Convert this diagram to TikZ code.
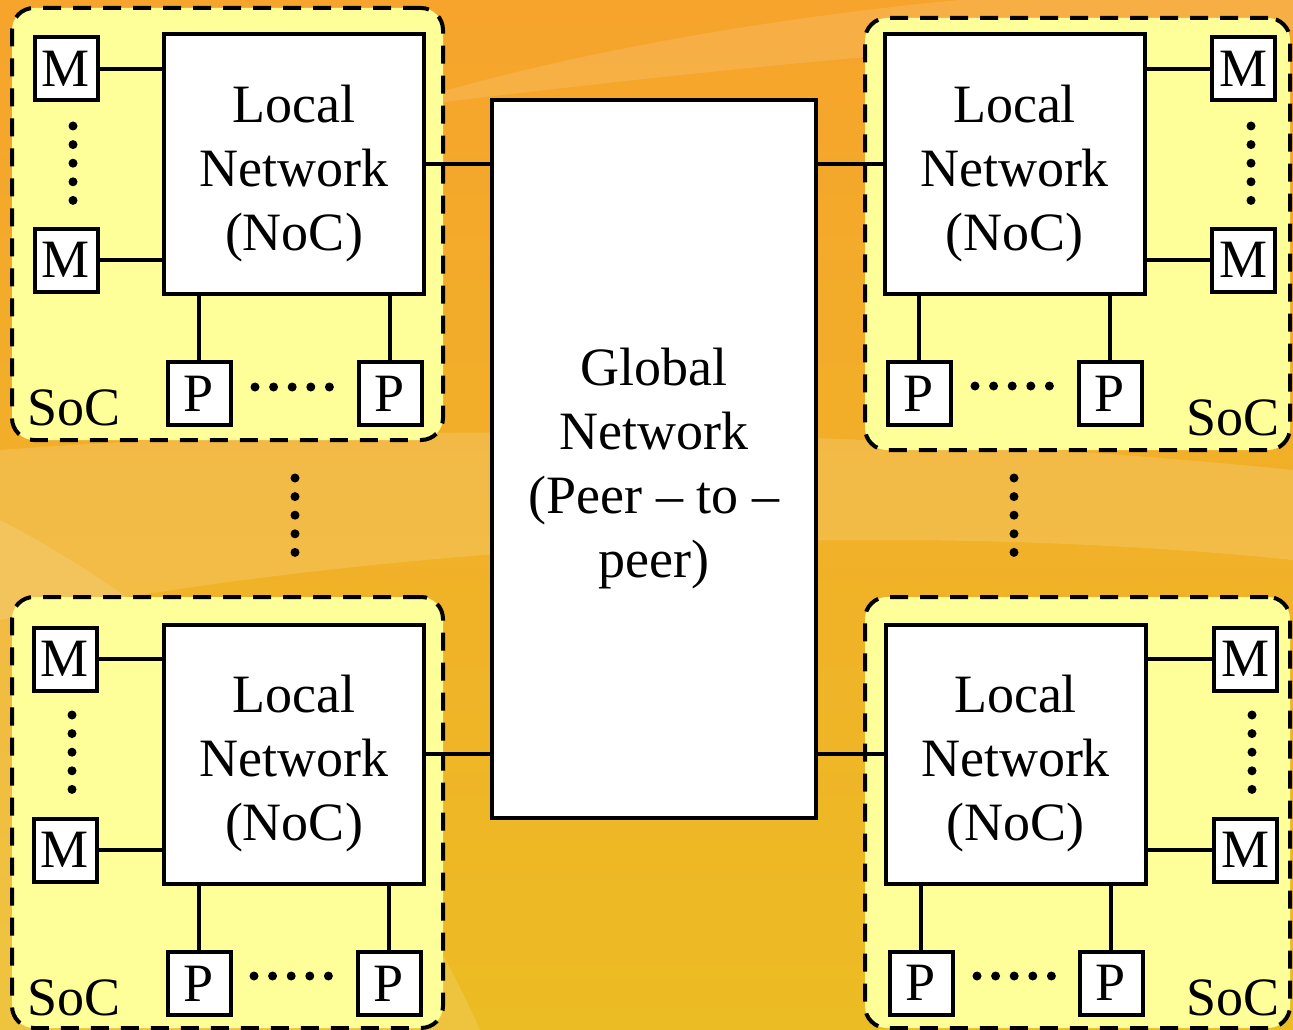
\documentclass[tikz,border=0pt]{standalone}
\usepackage{fontspec}
\setmainfont{Liberation Serif}
\usetikzlibrary{positioning,calc}
\definecolor{socyellow}{RGB}{255,255,153}
\definecolor{bgtop}{RGB}{246,164,44}
\definecolor{bgmid}{RGB}{246,198,104}
\definecolor{bgbot}{RGB}{236,188,36}

\begin{document}
\begin{tikzpicture}[x=1pt, y=-1pt,
    soc/.style={rectangle, draw, dash pattern=on 18pt off 12pt, line width=4pt, fill=socyellow, rounded corners=22pt},
    lnet/.style={rectangle, draw, line width=4pt, fill=white, minimum width=260pt, minimum height=259pt, align=center, text height=184pt, font=\fontsize{54}{64}\selectfont},
    unit/.style={rectangle, draw, line width=4pt, fill=white, minimum size=63pt, inner sep=0pt, font=\fontsize{54}{64}\selectfont},
    gnet/.style={rectangle, draw, line width=4pt, fill=white, minimum width=324pt, minimum height=718pt, align=center, text height=249pt, font=\fontsize{54}{64}\selectfont},
    soclabel/.style={anchor=base, inner sep=0pt, font=\fontsize{54}{64}\selectfont},
    link/.style={line width=3.5pt},
    dotrow/.style={line width=9pt, line cap=round, dash pattern=on 0pt off 18.6pt}]

    % background
    \useasboundingbox (0,0) rectangle (1293,1030);
    \fill[top color=bgtop, middle color=bgmid, bottom color=bgbot] (0,0) rectangle (1293,1030);
    \fill[white, opacity=0.14] (0,450) .. controls (400,420) and (900,430) .. (1293,470) -- (1293,560) .. controls (900,520) and (400,540) .. (0,620) -- cycle;
    \fill[white, opacity=0.12] (0,520) .. controls (250,650) and (400,850) .. (480,1030) -- (0,1030) -- cycle;
    \fill[white, opacity=0.12] (380,110) .. controls (600,40) and (850,10) .. (960,0) -- (1293,0) -- (1293,30) .. controls (1000,40) and (700,70) .. (380,110) -- cycle;

    % SoC frames
    \node[soc, minimum width=431pt, minimum height=432pt] (stl) at (227.5,224) {};
    \node[soc, minimum width=425pt, minimum height=432pt] (str) at (1077.5,234) {};
    \node[soc, minimum width=431pt, minimum height=431pt] (sbl) at (227.5,812.5) {};
    \node[soc, minimum width=425pt, minimum height=431pt] (sbr) at (1077.5,812.5) {};

    % global network
    \node[gnet] (glob) at (654,459) {Global\\Network\\(Peer – to –\\peer)};

    % top left SoC
    \node[lnet] (ltl) at (294,164) {Local\\Network\\(NoC)};
    \node[unit] (mtl1) at (66,69) {M};
    \node[unit] (mtl2) at (66,260) {M};
    \node[unit] (ptl1) at (199,393.5) {P};
    \node[unit] (ptl2) at (390,393.5) {P};
    \node[soclabel] (ctl) at (74,425) {SoC};

    % top right SoC
    \node[lnet] (ltr) at (1014.5,164) {Local\\Network\\(NoC)};
    \node[unit] (mtr1) at (1243.5,69) {M};
    \node[unit] (mtr2) at (1243.5,260) {M};
    \node[unit] (ptr1) at (919,393.5) {P};
    \node[unit] (ptr2) at (1110,393.5) {P};
    \node[soclabel] (ctr) at (1233,435) {SoC};

    % bottom left SoC
    \node[lnet] (lbl) at (294,754) {Local\\Network\\(NoC)};
    \node[unit] (mbl1) at (65,659) {M};
    \node[unit] (mbl2) at (65,850) {M};
    \node[unit] (pbl1) at (199,983.5) {P};
    \node[unit] (pbl2) at (389,983.5) {P};
    \node[soclabel] (cbl) at (74,1015) {SoC};

    % bottom right SoC
    \node[lnet] (lbr) at (1015.5,754) {Local\\Network\\(NoC)};
    \node[unit] (mbr1) at (1245,659) {M};
    \node[unit] (mbr2) at (1245,850) {M};
    \node[unit] (pbr1) at (921,983) {P};
    \node[unit] (pbr2) at (1111,983) {P};
    \node[soclabel] (cbr) at (1233,1015) {SoC};

    % links
    \draw[link] (ltl.east) -- (ltl.east -| glob.west);
    \draw[link] (lbl.east) -- (lbl.east -| glob.west);
    \draw[link] (ltr.west) -- (ltr.west -| glob.east);
    \draw[link] (lbr.west) -- (lbr.west -| glob.east);

    \draw[link] (mtl1) -- (mtl1 -| ltl.west);
    \draw[link] (mtl2) -- (mtl2 -| ltl.west);
    \draw[link] (ptl1) -- (ptl1 |- ltl.south);
    \draw[link] (ptl2) -- (ptl2 |- ltl.south);

    \draw[link] (mtr1) -- (mtr1 -| ltr.east);
    \draw[link] (mtr2) -- (mtr2 -| ltr.east);
    \draw[link] (ptr1) -- (ptr1 |- ltr.south);
    \draw[link] (ptr2) -- (ptr2 |- ltr.south);

    \draw[link] (mbl1) -- (mbl1 -| lbl.west);
    \draw[link] (mbl2) -- (mbl2 -| lbl.west);
    \draw[link] (pbl1) -- (pbl1 |- lbl.south);
    \draw[link] (pbl2) -- (pbl2 |- lbl.south);

    \draw[link] (mbr1) -- (mbr1 -| lbr.east);
    \draw[link] (mbr2) -- (mbr2 -| lbr.east);
    \draw[link] (pbr1) -- (pbr1 |- lbr.south);
    \draw[link] (pbr2) -- (pbr2 |- lbr.south);

    % dots
    \draw[dotrow] (73,126) -- (73,201);
    \draw[dotrow] (255,387) -- (330,387);
    \draw[dotrow] (1251,126) -- (1251,201);
    \draw[dotrow] (975,386) -- (1050,386);
    \draw[dotrow] (72,715) -- (72,790);
    \draw[dotrow] (254,976) -- (329,976);
    \draw[dotrow] (1252,715) -- (1252,790);
    \draw[dotrow] (977,976) -- (1052,976);
    \draw[dotrow] (295,478) -- (295,553);
    \draw[dotrow] (1014,478) -- (1014,553);
\end{tikzpicture}
\end{document}
